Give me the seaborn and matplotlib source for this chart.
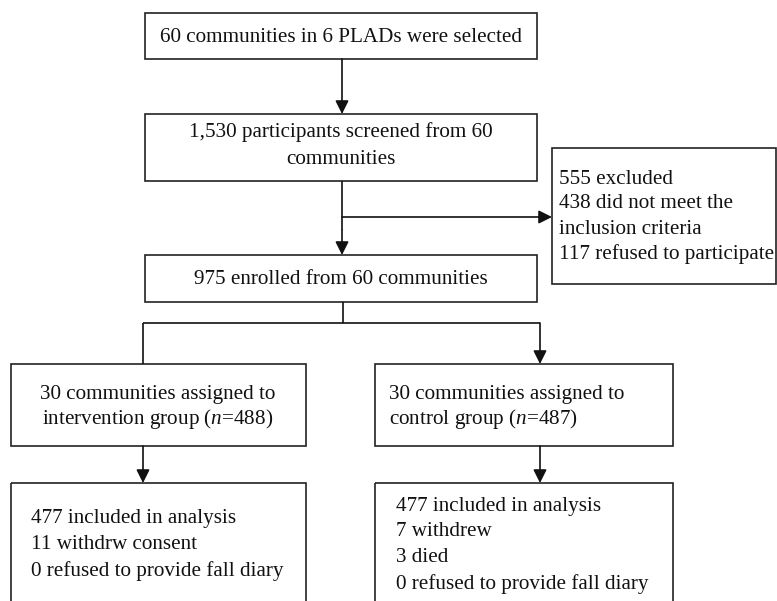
import matplotlib
matplotlib.use("Agg")
import matplotlib.pyplot as plt
import matplotlib.patches as mpatches
import seaborn as sns

sns.set_style("white")
plt.rcParams['font.family'] = ['Liberation Serif', 'DejaVu Serif']
plt.rcParams['mathtext.fontset'] = 'custom'
plt.rcParams['mathtext.rm'] = 'Liberation Serif'
plt.rcParams['mathtext.it'] = 'Liberation Serif:italic'

# box texts
selected_text = ["60 communities in 6 PLADs were selected"]
screened_text = ["1,530 participants screened from 60", "communities"]
excluded_text = ["555 excluded", "438 did not meet the", "inclusion criteria", "117 refused to participate"]
enrolled_text = ["975 enrolled from 60 communities"]
intervention_text = ["30 communities assigned to", "intervention group ($n$=488)"]
control_text = ["30 communities assigned to", "control group ($n$=487)"]
intervention_out = ["477 included in analysis", "11 withdrw consent", "0 refused to provide fall diary"]
control_out = ["477 included in analysis", "7 withdrew", "3 died", "0 refused to provide fall diary"]

fig = plt.figure(figsize=(7.77, 6.01), dpi=100)
ax = fig.add_axes([0, 0, 1, 1])
ax.set_xlim(0, 777)
ax.set_ylim(601, 0)
ax.axis('off')

LW = 1.2
FS = 15.2


def box(x0, y0, x1, y1):
    ax.add_patch(mpatches.Rectangle((x0, y0), x1 - x0, y1 - y0, fill=False,
                                    edgecolor='#222222', lw=LW, clip_on=False))


def lines_text(lines, x, y0, dy, ha='center'):
    for i, t in enumerate(lines):
        ax.text(x, y0 + 2 + i * dy, t, ha=ha, va='center', fontsize=FS, color='#111111')


def arrow(x0, y0, x1, y1):
    ax.annotate('', xy=(x1, y1), xytext=(x0, y0),
                arrowprops=dict(arrowstyle='-|>', color='#111111', lw=LW,
                                mutation_scale=20, shrinkA=0, shrinkB=0))


def seg(xs, ys):
    ax.plot(xs, ys, color='#111111', lw=LW, solid_capstyle='butt')


# top boxes
box(145, 13, 537, 59)
lines_text(selected_text, 341, 35, 27)
arrow(342, 59, 342, 114)

box(145, 114, 537, 181)
lines_text(screened_text, 341, 130, 27)

seg([342, 342], [181, 230])
arrow(342, 230, 342, 255)
arrow(342, 217, 552, 217)

box(552, 148, 776, 284)
lines_text(excluded_text, 559, 177, 25, ha='left')

box(145, 255, 537, 302)
lines_text(enrolled_text, 341, 277, 27)

# split
seg([343, 343], [302, 323])
seg([143, 540], [323, 323])
seg([143, 143], [323, 364])
arrow(540, 323, 540, 364)

box(11, 364, 306, 446)
lines_text(intervention_text, 158, 392, 25)
box(375, 364, 673, 446)
lines_text(control_text, 389, 392, 25, ha='left')

arrow(143, 446, 143, 483)
arrow(540, 446, 540, 483)

box(11, 483, 306, 640)
lines_text(intervention_out, 31, 516, 26.5, ha='left')
box(375, 483, 673, 640)
lines_text(control_out, 396, 504, 26, ha='left')

fig.savefig('out.png', dpi=100, facecolor='white')
